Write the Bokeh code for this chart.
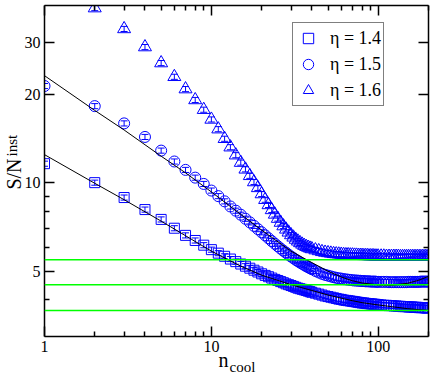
from bokeh.plotting import figure
from bokeh.models import (LogAxis, FixedTicker, PrintfTickFormatter, Span, Whisker, TeeHead,
                          ColumnDataSource, Legend, LegendItem)
from bokeh.embed import file_html
from bokeh.resources import INLINE

# ---------------- data ----------------
n_cool = [1, 2, 3, 4, 5, 6, 7, 8, 9, 10,
          11, 12, 13, 14, 15, 16, 17, 18, 19, 20,
          21, 22, 23, 24, 25, 26, 27, 28, 29, 30,
          31, 32, 33, 34, 35, 36, 37, 38, 39, 40,
          42, 44, 46, 48, 50, 52, 54, 56, 58, 60,
          62, 64, 66, 68, 70, 72, 74, 76, 78, 80,
          82, 84, 86, 88, 90, 92, 94, 96, 98, 100,
          104, 108, 112, 116, 120, 124, 128, 132, 136, 140,
          144, 148, 152, 156, 160, 164, 168, 172, 176, 180,
          184, 188, 192, 196, 200]

sn_eta14 = [11.6, 10.0, 8.9, 8.1, 7.5, 7.0, 6.62, 6.36, 6.13, 5.92,
            5.76, 5.62, 5.5, 5.39, 5.29, 5.2, 5.12, 5.04, 4.97, 4.9,
            4.84, 4.79, 4.74, 4.69, 4.65, 4.61, 4.57, 4.53, 4.5, 4.47,
            4.44, 4.41, 4.38, 4.36, 4.34, 4.32, 4.3, 4.28, 4.26, 4.24,
            4.21, 4.18, 4.15, 4.12, 4.1, 4.08, 4.06, 4.04, 4.02, 4.01,
            3.99, 3.98, 3.97, 3.96, 3.95, 3.94, 3.93, 3.92, 3.91, 3.9,
            3.9, 3.89, 3.88, 3.88, 3.87, 3.87, 3.86, 3.86, 3.85, 3.85,
            3.84, 3.83, 3.83, 3.82, 3.82, 3.81, 3.81, 3.8, 3.8, 3.79,
            3.79, 3.79, 3.78, 3.78, 3.78, 3.77, 3.77, 3.77, 3.76, 3.76,
            3.76, 3.76, 3.75, 3.75, 3.75]

sn_eta15 = [21.3, 18.2, 15.9, 14.3, 12.85, 11.8, 11.05, 10.4, 9.9, 9.4,
            9.0, 8.64, 8.3, 8.03, 7.78, 7.54, 7.33, 7.13, 6.95, 6.78,
            6.62, 6.47, 6.33, 6.2, 6.08, 5.97, 5.87, 5.78, 5.69, 5.61,
            5.54, 5.47, 5.41, 5.35, 5.3, 5.25, 5.2, 5.16, 5.12, 5.08,
            5.01, 4.95, 4.9, 4.86, 4.83, 4.8, 4.77, 4.75, 4.73, 4.72,
            4.7, 4.69, 4.68, 4.67, 4.66, 4.65, 4.65, 4.64, 4.64, 4.63,
            4.63, 4.62, 4.62, 4.62, 4.61, 4.61, 4.61, 4.61, 4.6, 4.6,
            4.6, 4.6, 4.6, 4.59, 4.59, 4.59, 4.59, 4.59, 4.59, 4.59,
            4.59, 4.59, 4.6, 4.6, 4.6, 4.6, 4.6, 4.6, 4.6, 4.61,
            4.61, 4.61, 4.61, 4.61, 4.61]

sn_eta16 = [46.0, 39.2, 33.3, 28.9, 25.5, 22.9, 20.8, 19.1, 17.7, 16.4,
            15.2, 14.1, 13.2, 12.4, 11.7, 11.1, 10.55, 10.05, 9.6, 9.15,
            8.75, 8.4, 8.08, 7.8, 7.55, 7.32, 7.12, 6.94, 6.78, 6.64,
            6.52, 6.41, 6.32, 6.24, 6.17, 6.11, 6.06, 6.02, 5.98, 5.95,
            5.9, 5.86, 5.82, 5.79, 5.77, 5.75, 5.73, 5.72, 5.71, 5.7,
            5.69, 5.68, 5.68, 5.67, 5.67, 5.66, 5.66, 5.65, 5.65, 5.65,
            5.64, 5.64, 5.64, 5.63, 5.63, 5.63, 5.63, 5.62, 5.62, 5.62,
            5.62, 5.62, 5.61, 5.61, 5.61, 5.61, 5.61, 5.61, 5.6, 5.6,
            5.6, 5.6, 5.6, 5.6, 5.6, 5.6, 5.6, 5.6, 5.6, 5.6,
            5.6, 5.6, 5.6, 5.6, 5.6]

fit_n = [1, 2, 3, 5, 7, 10, 15, 20, 30, 40, 50, 60, 70, 80, 100, 120, 150, 175, 200]
fit_eta14 = [12.45, 9.95, 8.75, 7.4, 6.6, 5.85, 5.2, 4.85, 4.5, 4.3, 4.15, 4.05,
             3.97, 3.91, 3.84, 3.79, 3.73, 3.7, 3.68]
fit_eta15 = [23.1, 17.6, 15.1, 12.3, 10.8, 9.3, 7.8, 6.9, 5.85, 5.35, 5.0, 4.78,
             4.64, 4.56, 4.49, 4.48, 4.55, 4.66, 4.8]

green_levels = [5.47, 4.50, 3.68]

x_major = [1, 10, 100]
x_minor = [2, 3, 4, 5, 6, 7, 8, 9, 20, 30, 40, 50, 60, 70, 80, 90, 200]
y_major = [5, 10, 20, 30]
y_minor = [4, 6, 7, 8, 9]
legend_labels = ["\u03b7 = 1.4", "\u03b7 = 1.5", "\u03b7 = 1.6"]
x_title = ("n", "cool")
y_title = ("S/N", "inst")
rel_err = 0.02

# where the axis titles sit, in axis units
x_title_at = (11.82, 15.37)
y_title_at = (10.70, 13.37)

SERIF = "'Liberation Serif', 'Times New Roman', serif"
BLUE = "#0000ff"

# ---------------- figure ----------------
p = figure(x_axis_type="log", y_axis_type="log",
           x_range=(1, 200), y_range=(3.0, 40.0),
           width=436, height=378,
           min_border_left=44, min_border_right=8, min_border_top=5, min_border_bottom=42,
           output_backend="svg", toolbar_location=None,
           background_fill_color="white", border_fill_color="white",
           outline_line_color=None)
p.xgrid.visible = False
p.ygrid.visible = False


def style_axis(ax, ticks, minor, labels):
    ax.ticker = FixedTicker(ticks=ticks, minor_ticks=minor)
    ax.axis_line_color = "black"
    ax.axis_line_width = 1.5
    ax.major_tick_in = 10
    ax.major_tick_out = 0
    ax.minor_tick_in = 5
    ax.minor_tick_out = 0
    ax.major_tick_line_color = "black"
    ax.minor_tick_line_color = "black"
    ax.major_tick_line_width = 1.5
    ax.minor_tick_line_width = 1.5
    ax.major_label_text_font = SERIF
    ax.major_label_text_color = "black"
    if labels:
        ax.formatter = PrintfTickFormatter(format="%d")
        ax.major_label_text_font_size = "16px"
        ax.major_label_standoff = 4
    else:
        ax.formatter = PrintfTickFormatter(format="")
        ax.major_label_text_font_size = "1px"
        ax.major_label_standoff = 0


def title_axis(at, text, size, standoff, orientation="horizontal"):
    return LogAxis(ticker=FixedTicker(ticks=[at], minor_ticks=[]),
                   formatter=PrintfTickFormatter(format=text),
                   axis_line_color=None, major_tick_line_color=None, minor_tick_line_color=None,
                   major_tick_in=0, major_tick_out=0, minor_tick_in=0, minor_tick_out=0,
                   major_label_text_font=SERIF, major_label_text_font_size=size,
                   major_label_text_color="black", major_label_standoff=standoff,
                   major_label_orientation=orientation)


top_axis = LogAxis()
right_axis = LogAxis()
p.add_layout(top_axis, "above")
p.add_layout(right_axis, "right")
style_axis(p.below[0], x_major, x_minor, True)
style_axis(top_axis, x_major, x_minor, False)
style_axis(p.left[0], y_major, y_minor, True)
style_axis(right_axis, y_major, y_minor, False)

# axis titles with subscripts, stacked beyond the tick labels
p.add_layout(title_axis(x_title_at[0], x_title[0], "20px", -6), "below")
p.add_layout(title_axis(x_title_at[1], x_title[1], "15px", -15), "below")
p.add_layout(title_axis(y_title_at[1], y_title[1], "15px", 1, "parallel"), "left")
p.add_layout(title_axis(y_title_at[0], y_title[0], "20px", -24, "parallel"), "left")

# ---------------- data marks ----------------
series = [(sn_eta14, "square", 10), (sn_eta15, "circle", 11), (sn_eta16, "triangle", 13)]
renderers = []
for vals, marker, size in series:
    src = ColumnDataSource(dict(n=n_cool, v=vals,
                                lo=[v * (1 - rel_err) for v in vals],
                                hi=[v * (1 + rel_err) for v in vals]))
    w = Whisker(base="n", lower="lo", upper="hi", source=src, dimension="height",
                line_color=BLUE, line_width=1,
                upper_head=TeeHead(size=7, line_color=BLUE, line_width=1),
                lower_head=TeeHead(size=7, line_color=BLUE, line_width=1))
    p.add_layout(w)
    r = p.scatter("n", "v", source=src, marker=marker, size=size,
                  fill_color=None, line_color=BLUE, line_width=1)
    renderers.append(r)

p.line(fit_n, fit_eta14, line_color="black", line_width=1)
p.line(fit_n, fit_eta15, line_color="black", line_width=1)

for lvl in green_levels:
    p.add_layout(Span(location=lvl, dimension="width", line_color="#00ff00", line_width=1.5))

legend = Legend(items=[LegendItem(label=lab, renderers=[r]) for lab, r in zip(legend_labels, renderers)],
                location=(248, 230), margin=0, padding=2, spacing=-4,
                glyph_width=26, glyph_height=26, label_height=26, label_standoff=9,
                label_text_font=SERIF, label_text_font_size="18px", label_text_color="black",
                border_line_color="black", border_line_width=1, background_fill_color="white",
                background_fill_alpha=1.0)
p.add_layout(legend)

open("out.html", "w").write(file_html(p, INLINE))
